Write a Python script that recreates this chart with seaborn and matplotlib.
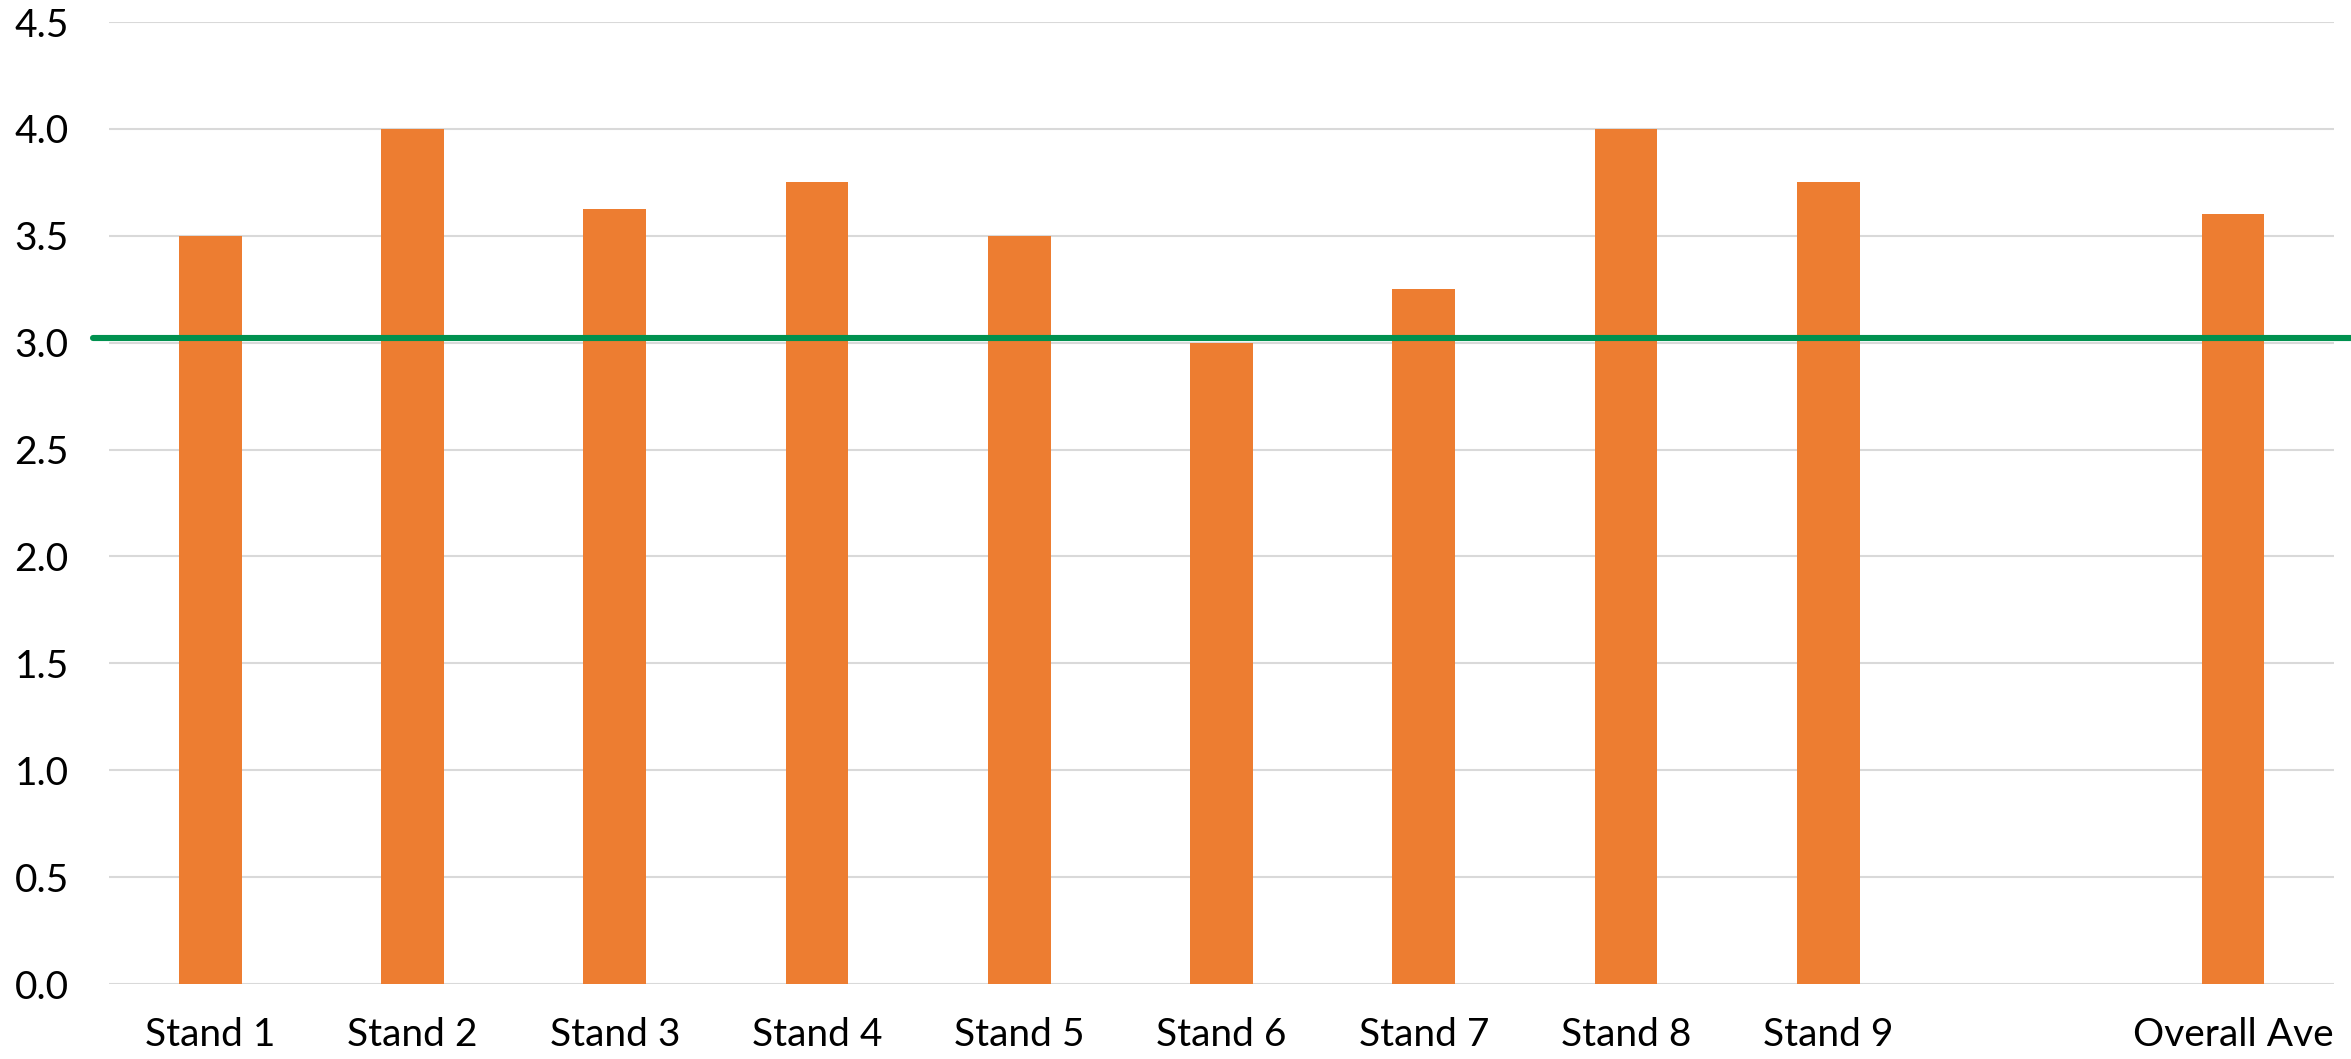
import matplotlib.pyplot as plt
import pandas as pd
import seaborn as sns

# values
stands = ["Stand 1", "Stand 2", "Stand 3", "Stand 4", "Stand 5",
          "Stand 6", "Stand 7", "Stand 8", "Stand 9", "Overall Ave"]
scores = [3.5, 4.0, 3.625, 3.75, 3.5, 3.0, 3.25, 4.0, 3.75, 3.6]
# an empty slot sits between Stand 9 and the overall average
order = stands[:9] + [""] + stands[9:]
target = 3.02
y_ticks = [0.0, 0.5, 1.0, 1.5, 2.0, 2.5, 3.0, 3.5, 4.0, 4.5]

df = pd.DataFrame({"stand": stands, "score": scores})

sns.set_style("white")
plt.rcParams["font.family"] = ["Lato", "DejaVu Sans"]

fig = plt.figure(figsize=(23.51, 10.59), dpi=100)
ax = fig.add_axes([0.0464, 0.0708, 0.9464, 0.9084])

sns.barplot(data=df, x="stand", y="score", order=order, color="#ED7D31",
            saturation=1, width=0.31, edgecolor="none", ax=ax)

# target line runs a bit past the plot area on both sides
ax.axhline(target, xmin=-0.0072, xmax=1.01, color="#00914F", lw=4.4,
           clip_on=False, zorder=5)

ax.set_ylim(0, 4.5)
ax.set_yticks(y_ticks)
ax.set_yticklabels([f"{t:.1f}" for t in y_ticks])
ax.yaxis.grid(True, color="#D9D9D9", lw=1.5)
ax.set_axisbelow(True)
ax.set_xlabel("")
ax.set_ylabel("")
for s in ax.spines.values():
    s.set_visible(False)
ax.tick_params(axis="both", length=0, labelsize=28, colors="black")
ax.tick_params(axis="y", pad=29)
ax.tick_params(axis="x", pad=24)

fig.savefig("out.png", dpi=100)
